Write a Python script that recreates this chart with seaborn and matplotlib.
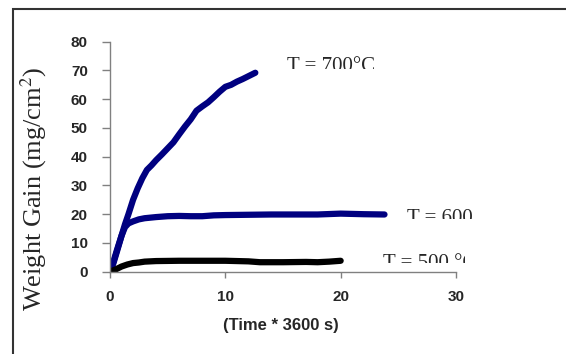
import numpy as np
import pandas as pd
import matplotlib.pyplot as plt
import seaborn as sns
from matplotlib.patches import Rectangle
from matplotlib.transforms import Bbox, TransformedBbox

sns.set_style('white')
plt.rcParams['font.family'] = ['Liberation Sans', 'DejaVu Sans']
plt.rcParams['mathtext.fontset'] = 'stix'

# weight gain curves (time in h, gain in mg/cm2)
time_700 = [0, 0.3, 0.6, 1.0, 1.3, 1.6, 2.0, 2.4, 2.8, 3.2, 3.6, 4.0, 4.5, 5.0,
            5.5, 6.0, 6.5, 7.0, 7.5, 8.0, 8.5, 9.0, 9.5, 10.0, 10.5, 11.0, 11.5,
            12.0, 12.6]
gain_700 = [0, 3, 7, 12.5, 16.5, 20, 25, 29, 32.5, 35.4, 37, 38.8, 40.8, 42.9,
            45, 47.8, 50.5, 53, 56, 57.5, 58.9, 60.7, 62.6, 64.3, 65, 66.1, 67,
            68, 69.2]

time_600 = [0, 0.3, 0.6, 1.0, 1.3, 1.6, 2.0, 2.5, 3.0, 4.0, 5.0, 6.0, 7.0, 8.0,
            9.0, 10.0, 12.0, 14.0, 16.0, 18.0, 20.0, 22.0, 23.8]
gain_600 = [0, 3.5, 7.5, 12.5, 15.5, 16.8, 17.5, 18.2, 18.6, 19.0, 19.3, 19.4,
            19.3, 19.3, 19.6, 19.7, 19.8, 19.9, 19.9, 19.9, 20.2, 20.0, 19.9]

time_500 = [0, 0.5, 1.0, 1.5, 2.0, 2.5, 3.0, 4.0, 6.0, 8.0, 10.0, 12.0, 13.0,
            15.0, 17.0, 18.0, 19.0, 20.0]
gain_500 = [0, 0.8, 1.8, 2.5, 3.0, 3.2, 3.5, 3.7, 3.8, 3.8, 3.8, 3.6, 3.3,
            3.3, 3.4, 3.3, 3.5, 3.8]

temps = ['700', '600', '500']
colors = {'700': '#000080', '600': '#000080', '500': '#000000'}

W, H = 566, 354


def px_box(fig, x0, y0, x1, y1):
    # pixel box (y pointing down) -> display bbox
    bb = Bbox.from_extents(x0 / W, 1 - y1 / H, x1 / W, 1 - y0 / H)
    return TransformedBbox(bb, fig.transFigure)


df = pd.concat([
    pd.DataFrame({'time': time_700, 'gain': gain_700, 'temp': '700'}),
    pd.DataFrame({'time': time_600, 'gain': gain_600, 'temp': '600'}),
    pd.DataFrame({'time': time_500, 'gain': gain_500, 'temp': '500'}),
], ignore_index=True)

fig = plt.figure(figsize=(W / 100, H / 100), dpi=100)
ax = fig.add_axes([110 / W, 1 - 271.7 / H, 346 / W, 230 / H])

sns.lineplot(data=df, x='time', y='gain', hue='temp', hue_order=temps,
             palette=colors, lw=4.5, estimator=None, sort=False,
             legend=False, ax=ax)

ax.set_xlim(0, 30)
ax.set_ylim(0, 80)
ax.set_xticks([0, 10, 20, 30])
ax.set_yticks(np.arange(0, 81, 10))
sns.despine(ax=ax)
for s in ['left', 'bottom']:
    ax.spines[s].set_color('#808080')
    ax.spines[s].set_linewidth(1)
ax.tick_params(axis='y', direction='out', length=6, width=1, color='#808080',
               labelsize=11, pad=10, left=True)
ax.tick_params(axis='x', direction='out', length=4, width=1, color='#808080',
               labelsize=11, pad=9, bottom=True)
plt.setp(ax.get_xticklabels() + ax.get_yticklabels(), fontweight='bold')

ax.set_xlabel('(Time * 3600 s)', fontweight='bold', fontsize=12)
ax.xaxis.set_label_coords(0.494, -0.236)
ax.xaxis.label.set_va('center')
ax.set_ylabel('Weight Gain (mg/cm$^2$)', family='Liberation Serif', fontsize=19)
ax.yaxis.set_label_coords(-0.22, 0.36)
ax.yaxis.label.set_va('center')

# curve labels, cut off at the bottom like in the source picture
labels = [('T = 700°C', 15.35, 69.9, (280, 0, 385, 69)),
          ('T = 600 °C', 25.73, 17.0, (400, 0, 474, 219)),
          ('T = 500 °C', 23.65, 1.36, (375, 0, 465, 263))]
for txt, x, y, box in labels:
    t = ax.text(x, y, txt, family='Liberation Serif', fontsize=15,
                ha='left', va='baseline')
    t.set_clip_on(True)
    t.set_clip_box(px_box(fig, *box))

# outer frame of the original figure
fig.patches.append(Rectangle((13 / W, -0.2), 1.2, 1.2 - 9 / H,
                             transform=fig.transFigure, fill=False,
                             ec='#333333', lw=1.5))

fig.savefig('out.png', dpi=100)
